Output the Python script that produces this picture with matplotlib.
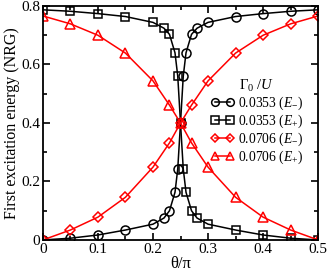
import matplotlib
matplotlib.use("Agg")
import matplotlib.pyplot as plt
from matplotlib.ticker import MultipleLocator

plt.rcParams['font.family'] = ['Liberation Serif', 'DejaVu Serif']
plt.rcParams['mathtext.fontset'] = 'custom'
plt.rcParams['mathtext.rm'] = 'Liberation Serif'
plt.rcParams['mathtext.it'] = 'Liberation Serif:italic'

# black series (Gamma0/U = 0.0353)
x_black = [0, 0.05, 0.1, 0.15, 0.2, 0.22, 0.23, 0.24, 0.245, 0.25,
           0.255, 0.26, 0.27, 0.28, 0.3, 0.35, 0.4, 0.45, 0.5]
e_minus_black = [0.0, 0.006, 0.017, 0.034, 0.054, 0.075, 0.10, 0.163, 0.243, 0.40,
                 0.56, 0.64, 0.703, 0.724, 0.744, 0.764, 0.774, 0.782, 0.787]
e_plus_black = [0.787, 0.782, 0.774, 0.764, 0.744, 0.724, 0.703, 0.64, 0.56, 0.40,
                0.243, 0.163, 0.10, 0.075, 0.054, 0.034, 0.017, 0.006, 0.0]

# red series (Gamma0/U = 0.0706)
x_red = [0, 0.05, 0.1, 0.15, 0.2, 0.23, 0.25, 0.27, 0.3, 0.35, 0.4, 0.45, 0.5]
e_minus_red = [0.0, 0.034, 0.078, 0.146, 0.249, 0.332, 0.40, 0.461, 0.544, 0.639,
               0.70, 0.739, 0.766]
e_plus_red = [0.766, 0.739, 0.70, 0.639, 0.544, 0.461, 0.40, 0.332, 0.249, 0.146,
              0.078, 0.034, 0.0]

labels = [r"0.0353 ($E_{-}$)", r"0.0353 ($E_{+}$)",
          r"0.0706 ($E_{-}$)", r"0.0706 ($E_{+}$)"]
xticks = [0, 0.1, 0.2, 0.3, 0.4, 0.5]
xticklabels = ["0", "0.1", "0.2", "0.3", "0.4", "0.5"]
yticks = [0, 0.2, 0.4, 0.6, 0.8]
yticklabels = ["0", "0.2", "0.4", "0.6", "0.8"]

fig = plt.figure(figsize=(3.27, 2.73), dpi=100)
ax = fig.add_axes([0.131, 0.121, 0.842, 0.857])

ms = 6.5
mew = 1.1
lw = 1.1
ax.plot(x_black, e_minus_black, '-o', color='black', mfc='none', ms=ms, mew=mew, lw=lw, label=labels[0])
ax.plot(x_black, e_plus_black, '-s', color='black', mfc='none', ms=ms - 0.5, mew=mew, lw=lw, label=labels[1])
ax.plot(x_red, e_minus_red, '-D', color='red', mfc='none', ms=ms - 1.5, mew=mew, lw=lw, label=labels[2])
ax.plot(x_red, e_plus_red, '-^', color='red', mfc='none', ms=ms + 0.5, mew=mew, lw=lw, label=labels[3])

ax.set_xlim(0, 0.5)
ax.set_ylim(0, 0.8)
ax.set_xticks(xticks)
ax.set_xticklabels(xticklabels)
ax.set_yticks(yticks)
ax.set_yticklabels(yticklabels)
ax.xaxis.set_minor_locator(MultipleLocator(0.05))
ax.yaxis.set_minor_locator(MultipleLocator(0.1))
ax.tick_params(which='both', direction='in', top=True, right=True, labelsize=11, width=1.2)
ax.tick_params(which='major', length=5, pad=2)
ax.tick_params(which='minor', length=3)
for s in ax.spines.values():
    s.set_linewidth(1.3)

ax.set_xlabel(r"θ/π", fontsize=12, labelpad=0)
ax.set_ylabel("First excitation energy (NRG)", fontsize=11.5, labelpad=1)

leg = ax.legend(title=r"Γ$_0$ /$U$", loc='center right', bbox_to_anchor=(0.975, 0.505),
                frameon=False, fontsize=9.8, title_fontsize=10.5, numpoints=2,
                markerscale=0.85, handlelength=1.7, handletextpad=0.3,
                labelspacing=0.05, borderpad=0.1)
leg._legend_box.align = "center"

fig.savefig("out.png", dpi=100)
